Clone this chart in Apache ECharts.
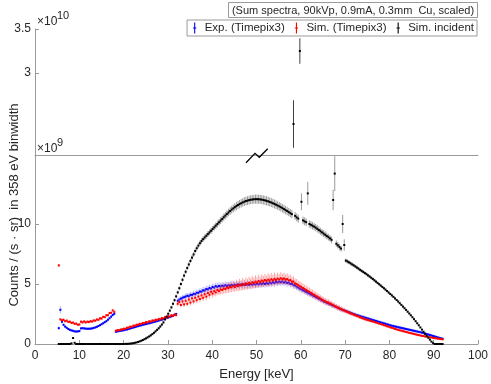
<!DOCTYPE html>
<html>
<head>
    <meta charset="utf-8"/>
    <script src="https://cdn.jsdelivr.net/npm/echarts@6/dist/echarts.min.js"></script>
    <style>
        html, body { margin: 0; padding: 0; background: #fff; }
        #main { width: 491px; height: 384px; }
    </style>
</head>
<body>
<div id="main"></div>
<script type="text/javascript">
    // spectra in 358 eV bins, bin k is centred at k * binWidth (keV)
    var binWidth = 0.358;
    var firstBin = 15;

    // counts / (s sr), in units of 1e9
    var expCounts = [
        1.32,2.85,1.85,1.6,1.45,1.35,1.25,1.18,1.13,1.1,
        1.05,1.04,1.05,1.08,1.3,1.32,1.3,1.28,1.27,1.27,
        1.28,1.3,1.34,1.38,1.43,1.5,1.57,1.65,1.73,1.82,
        1.9,2.02,2.15,2.28,2.42,2.52,1.02,1.05,1.08,1.1,
        1.12,1.15,1.18,1.21,1.25,1.29,1.33,1.37,1.41,1.45,
        1.49,1.53,1.56,1.6,1.63,1.66,1.7,1.73,1.76,1.8,
        1.84,1.87,1.91,1.95,1.99,2.03,2.07,2.11,2.16,2.2,
        2.25,2.3,2.35,2.42,2.5,3.6,3.7,3.78,3.85,3.9,
        3.95,4.02,3.98,4.1,4.08,4.18,4.15,4.27,4.26,4.37,
        4.36,4.47,4.45,4.58,4.55,4.67,4.62,4.75,4.7,4.82,
        4.76,4.84,4.79,4.86,4.81,4.9,4.83,4.9,4.86,4.93,
        4.87,4.94,4.88,4.96,4.9,4.97,4.91,4.98,4.93,4.99,
        4.93,5.0,4.94,5.02,4.95,5.03,4.97,5.05,4.99,5.07,
        5.0,5.09,5.02,5.12,5.05,5.15,5.08,5.18,5.12,5.2,
        5.14,5.22,5.12,5.19,5.08,5.12,5.0,5.02,4.9,4.88,
        4.78,4.7,4.62,4.55,4.48,4.41,4.34,4.27,4.2,4.13,
        4.06,3.99,3.92,3.85,3.78,3.71,3.64,3.57,3.5,3.44,
        3.38,3.32,3.26,3.2,3.14,3.08,3.02,2.96,2.9,2.84,
        2.8,2.75,2.7,2.65,2.6,2.55,2.5,2.45,2.41,2.37,
        2.32,2.28,2.24,2.2,2.16,2.12,2.08,2.04,2.0,1.96,
        1.92,1.88,1.84,1.8,1.76,1.72,1.68,1.64,1.6,1.56,
        1.52,1.49,1.46,1.43,1.4,1.37,1.34,1.31,1.28,1.25,
        1.22,1.19,1.16,1.13,1.1,1.07,1.04,1.01,0.98,0.95,
        0.91,0.87,0.83,0.79,0.75,0.71,0.67,0.63,0.59,0.55,
        0.51,0.47,0.44
    ];
    var expErr = [
        0.15,0.3,0.15,0.12,0.12,0.1,0.1,0.1,0.1,0.1,
        0.1,0.1,0.1,0.1,0.1,0.1,0.1,0.1,0.1,0.1,
        0.1,0.1,0.1,0.1,0.1,0.1,0.1,0.1,0.1,0.1,
        0.11,0.11,0.12,0.12,0.13,0.13,0.1,0.1,0.1,0.1,
        0.1,0.1,0.1,0.1,0.1,0.1,0.1,0.1,0.1,0.1,
        0.1,0.1,0.1,0.1,0.1,0.1,0.1,0.1,0.1,0.1,
        0.1,0.1,0.1,0.1,0.1,0.1,0.1,0.1,0.1,0.1,
        0.1,0.1,0.11,0.11,0.12,0.22,0.22,0.22,0.23,0.23,
        0.24,0.24,0.25,0.25,0.25,0.26,0.26,0.26,0.27,0.27,
        0.27,0.28,0.28,0.28,0.28,0.29,0.29,0.29,0.29,0.3,
        0.3,0.3,0.3,0.3,0.3,0.3,0.3,0.3,0.3,0.3,
        0.3,0.3,0.3,0.3,0.3,0.3,0.3,0.3,0.3,0.3,
        0.3,0.3,0.3,0.3,0.3,0.3,0.3,0.3,0.3,0.3,
        0.3,0.3,0.3,0.3,0.3,0.3,0.3,0.3,0.3,0.3,
        0.3,0.3,0.3,0.3,0.3,0.3,0.3,0.3,0.3,0.3,
        0.29,0.29,0.28,0.28,0.27,0.27,0.26,0.26,0.25,0.25,
        0.25,0.24,0.24,0.23,0.23,0.22,0.22,0.22,0.21,0.21,
        0.21,0.2,0.2,0.2,0.19,0.19,0.19,0.18,0.18,0.18,
        0.18,0.17,0.17,0.17,0.16,0.16,0.16,0.16,0.15,0.15,
        0.15,0.15,0.15,0.15,0.15,0.15,0.15,0.15,0.15,0.15,
        0.14,0.14,0.14,0.14,0.14,0.14,0.14,0.14,0.14,0.14,
        0.13,0.13,0.13,0.13,0.13,0.13,0.13,0.13,0.13,0.13,
        0.12,0.12,0.12,0.12,0.12,0.12,0.12,0.12,0.12,0.12,
        0.11,0.11,0.11,0.11,0.11,0.11,0.11,0.11,0.11,0.11,
        0.1,0.1,0.1
    ];

    var simTpxCounts = [
        6.55,2.05,1.98,2.02,1.9,1.95,1.84,1.86,1.76,1.78,
        1.68,1.7,1.6,1.63,1.86,1.8,1.88,1.8,1.86,1.83,
        1.9,1.87,1.96,1.94,2.04,2.02,2.14,2.12,2.26,2.24,
        2.4,2.4,2.58,2.6,2.8,2.68,1.1,1.16,1.14,1.2,
        1.22,1.27,1.26,1.35,1.36,1.44,1.43,1.52,1.52,1.6,
        1.6,1.68,1.67,1.75,1.74,1.82,1.8,1.89,1.87,1.96,
        1.94,2.02,2.0,2.09,2.06,2.16,2.13,2.24,2.2,2.32,
        2.28,2.4,2.34,2.46,2.4,3.35,3.5,3.25,3.55,3.3,
        3.6,3.35,3.7,3.45,3.8,3.55,3.85,3.65,3.95,3.75,
        4.05,3.85,4.15,3.95,4.25,4.1,4.35,4.2,4.4,4.3,
        4.5,4.4,4.55,4.5,4.62,4.58,4.7,4.65,4.75,4.72,
        4.84,4.74,4.9,4.82,4.95,4.88,5.0,4.93,5.05,4.98,
        5.1,5.02,5.15,5.08,5.2,5.12,5.25,5.16,5.29,5.21,
        5.33,5.24,5.36,5.28,5.4,5.31,5.43,5.34,5.45,5.38,
        5.48,5.4,5.46,5.36,5.42,5.3,5.33,5.2,5.2,5.05,
        4.99,4.9,4.82,4.74,4.66,4.58,4.5,4.42,4.34,4.26,
        4.18,4.1,4.02,3.94,3.86,3.78,3.7,3.62,3.55,3.48,
        3.45,3.38,3.31,3.24,3.17,3.1,3.03,2.97,2.91,2.85,
        2.79,2.73,2.67,2.61,2.55,2.5,2.44,2.39,2.34,2.29,
        2.22,2.17,2.12,2.07,2.03,1.99,1.95,1.91,1.87,1.83,
        1.79,1.74,1.7,1.66,1.62,1.57,1.53,1.48,1.44,1.39,
        1.35,1.31,1.26,1.22,1.18,1.14,1.11,1.07,1.04,1.0,
        0.97,0.93,0.9,0.87,0.84,0.8,0.77,0.74,0.71,0.68,
        0.66,0.63,0.61,0.58,0.56,0.54,0.51,0.49,0.47,0.45,
        0.43,0.41,0.39
    ];
    var simTpxErr = [
        0.12,0.1,0.1,0.1,0.1,0.1,0.1,0.1,0.1,0.1,
        0.1,0.1,0.1,0.1,0.1,0.1,0.1,0.1,0.1,0.1,
        0.1,0.1,0.1,0.1,0.1,0.1,0.1,0.1,0.1,0.1,
        0.1,0.1,0.1,0.1,0.1,0.1,0.1,0.1,0.1,0.1,
        0.1,0.1,0.1,0.1,0.1,0.1,0.1,0.1,0.1,0.1,
        0.1,0.1,0.1,0.1,0.1,0.1,0.1,0.1,0.1,0.1,
        0.1,0.1,0.1,0.1,0.1,0.1,0.1,0.1,0.1,0.1,
        0.1,0.1,0.1,0.1,0.1,0.2,0.22,0.2,0.24,0.22,
        0.25,0.22,0.27,0.24,0.28,0.25,0.3,0.26,0.3,0.28,
        0.32,0.28,0.33,0.3,0.34,0.31,0.35,0.32,0.36,0.33,
        0.38,0.34,0.4,0.35,0.42,0.36,0.43,0.38,0.44,0.4,
        0.45,0.4,0.46,0.41,0.48,0.42,0.5,0.43,0.5,0.44,
        0.5,0.45,0.52,0.45,0.52,0.46,0.5,0.45,0.52,0.46,
        0.5,0.45,0.52,0.46,0.5,0.45,0.52,0.44,0.5,0.45,
        0.5,0.44,0.48,0.43,0.47,0.42,0.45,0.4,0.44,0.4,
        0.42,0.38,0.4,0.36,0.38,0.35,0.37,0.34,0.36,0.33,
        0.34,0.31,0.33,0.3,0.32,0.29,0.3,0.28,0.29,0.27,
        0.28,0.26,0.27,0.25,0.26,0.24,0.25,0.23,0.24,0.22,
        0.2,0.18,0.19,0.17,0.18,0.16,0.17,0.15,0.16,0.14,
        0.14,0.13,0.13,0.12,0.12,0.11,0.11,0.1,0.1,0.1,
        0.08,0.08,0.08,0.08,0.08,0.08,0.08,0.08,0.08,0.08,
        0.08,0.08,0.08,0.08,0.08,0.08,0.08,0.08,0.08,0.08,
        0.07,0.07,0.07,0.07,0.07,0.07,0.07,0.07,0.07,0.07,
        0.06,0.06,0.06,0.06,0.06,0.06,0.06,0.06,0.06,0.06,
        0.06,0.06,0.06
    ];

    var incidentCounts = [
        0,0,0,0,0,0,0,0,0.05,0.5,
        0.1,0,0,0,0,0,0,0,0,0,
        0,0,0,0,0,0,0,0,0,0,
        0,0,0,0,0,0,0,0,0,0,
        0,0,0.01,0.01,0.02,0.03,0.05,0.07,0.1,0.13,
        0.17,0.22,0.27,0.33,0.4,0.47,0.55,0.63,0.72,0.82,
        0.93,1.05,1.18,1.31,1.46,1.62,1.8,2.05,2.28,2.52,
        2.78,3.05,3.35,3.65,3.97,4.3,4.65,5.0,5.35,5.7,
        6.02,6.33,6.63,6.92,7.2,7.46,7.75,7.98,8.2,8.4,
        8.58,8.74,8.88,9.02,9.16,9.3,9.44,9.58,9.72,9.86,
        10.0,10.14,10.28,10.42,10.56,10.7,10.83,10.96,11.08,11.2,
        11.3,11.4,11.5,11.58,11.66,11.73,11.8,11.86,11.91,11.95,
        11.99,12.02,12.04,12.06,12.07,12.07,12.06,12.05,12.03,12.0,
        11.97,11.93,11.89,11.84,11.79,11.73,11.67,11.61,11.54,11.47,
        11.4,11.32,11.24,11.16,11.08,10.99,10.9,10.82,24.2,10.68,
        10.55,10.45,32.5,11.85,10.3,10.22,10.15,12.55,10.0,9.93,
        9.86,9.78,9.7,9.6,9.5,9.4,9.3,9.2,9.1,9.0,
        8.9,8.8,8.68,12.0,14.2,8.35,8.22,8.08,7.95,10.0,
        8.25,6.95,6.88,6.8,6.72,6.63,6.55,6.46,6.37,6.28,
        6.18,6.09,6.0,5.91,5.82,5.72,5.62,5.52,5.42,5.31,
        5.2,5.09,4.98,4.87,4.76,4.65,4.53,4.41,4.29,4.17,
        4.05,3.93,3.8,3.67,3.54,3.4,3.26,3.12,2.98,2.84,
        2.69,2.54,2.39,2.23,2.07,1.9,1.73,1.56,1.38,1.2,
        1.02,0.85,0.68,0.52,0.36,0.2,0.07,0,0,0,
        0,0,0
    ];
    var incidentErr = [
        0,0,0,0,0,0,0,0,0,0,
        0,0,0,0,0,0,0,0,0,0,
        0,0,0,0,0,0,0,0,0,0,
        0,0,0,0,0,0,0,0,0,0,
        0,0,0,0,0,0,0.01,0.01,0.02,0.02,
        0.03,0.03,0.04,0.04,0.05,0.05,0.06,0.06,0.07,0.07,
        0.08,0.08,0.09,0.09,0.1,0.1,0.11,0.11,0.12,0.12,
        0.13,0.13,0.14,0.14,0.15,0.15,0.16,0.16,0.17,0.17,
        0.18,0.18,0.19,0.19,0.2,0.2,0.21,0.21,0.22,0.22,
        0.23,0.23,0.24,0.24,0.25,0.25,0.26,0.26,0.27,0.27,
        0.28,0.28,0.29,0.29,0.3,0.3,0.31,0.31,0.32,0.32,
        0.33,0.33,0.34,0.34,0.35,0.35,0.35,0.36,0.36,0.36,
        0.37,0.37,0.37,0.37,0.38,0.38,0.38,0.38,0.38,0.38,
        0.38,0.38,0.38,0.37,0.37,0.37,0.37,0.36,0.36,0.36,
        0.36,0.35,0.35,0.35,0.35,0.34,0.34,0.34,2.7,0.33,
        0.33,0.33,1.45,0.7,0.32,0.32,0.32,0.95,0.31,0.31,
        0.31,0.3,0.3,0.3,0.3,0.29,0.29,0.29,0.29,0.28,
        0.28,0.28,0.28,0.85,1.45,0.27,0.27,0.27,0.26,0.75,
        0.48,0.17,0.17,0.16,0.16,0.16,0.15,0.15,0.15,0.14,
        0.14,0.14,0.14,0.13,0.13,0.13,0.12,0.12,0.12,0.12,
        0.11,0.11,0.11,0.1,0.1,0.1,0.1,0.09,0.09,0.09,
        0.09,0.08,0.08,0.08,0.08,0.07,0.07,0.07,0.07,0.06,
        0.06,0.06,0.06,0.05,0.05,0.05,0.05,0.04,0.04,0.04,
        0.04,0.03,0.03,0.03,0.02,0.02,0.01,0,0,0,
        0,0,0
    ];

    var seriesNames = ['Exp. (Timepix3)', 'Sim. (Timepix3)', 'Sim. incident'];
    var seriesColors = ['#0000ff', '#ff0000', '#000000'];
    var legendTitle = '(Sum spectra, 90kVp, 0.9mA, 0.3mm  Cu, scaled)';

    var energy = expCounts.map(function (v, i) {
        return +((firstBin + i) * binWidth).toFixed(3);
    });

    function toRows(vals, errs) {
        return vals.map(function (v, i) { return [energy[i], v, errs[i]]; });
    }

    // error bar + centre dot, clipped to its own grid
    function errorBars(barColor, dotColor) {
        return function (params, api) {
            var x = api.value(0), v = api.value(1), e = api.value(2);
            var cs = params.coordSys;
            var p = api.coord([x, v]);
            var yTop = api.coord([x, v + e])[1];
            var yBot = api.coord([x, v - e])[1];
            var lo = cs.y, hi = cs.y + cs.height;
            var kids = [];
            var a = Math.max(yTop, lo), b = Math.min(yBot, hi);
            if (b > a) {
                kids.push({type: 'line', shape: {x1: p[0], y1: a, x2: p[0], y2: b},
                    style: {stroke: barColor, lineWidth: 1}});
            }
            if (p[1] >= lo - 0.5 && p[1] <= hi + 0.5) {
                kids.push({type: 'rect', shape: {x: p[0] - 1, y: p[1] - 1, width: 2, height: 2},
                    style: {fill: dotColor}});
            }
            return {type: 'group', children: kids};
        };
    }

    var font = '"Liberation Sans", Arial, Helvetica, sans-serif';
    var axisGray = '#9a9a9a';
    var textDark = '#262626';

    var myChart = echarts.init(document.getElementById('main'));

    var option = {
        animation: false,
        textStyle: {fontFamily: font},
        legend: {
            data: seriesNames.map(function (n, i) {
                return {name: n, itemStyle: {color: seriesColors[i]}};
            }),
            right: 14,
            top: 20,
            icon: 'path://M2,0h1v10h-1z M1,4.5h3v1h-3z',
            itemWidth: 10,
            itemHeight: 11,
            itemGap: 10,
            padding: [2, 3, 2, 6],
            borderColor: axisGray,
            borderWidth: 1,
            backgroundColor: '#fff',
            textStyle: {fontSize: 11.5, color: textDark, fontFamily: font}
        },
        grid: [
            {left: 35, right: 13, top: 29, height: 126},
            {left: 35, right: 13, top: 155, height: 189}
        ],
        xAxis: [
            {gridIndex: 0, type: 'value', min: 0, max: 100, show: false},
            {
                gridIndex: 1, type: 'value', min: 0, max: 100, interval: 10,
                name: 'Energy [keV]', nameLocation: 'middle', nameGap: 24,
                nameTextStyle: {fontSize: 13, color: textDark, fontFamily: font},
                axisLine: {lineStyle: {color: axisGray}},
                axisTick: {inside: true, length: 4, lineStyle: {color: axisGray}},
                axisLabel: {fontSize: 12, color: textDark, margin: 6, fontFamily: font},
                splitLine: {show: false}
            },
            {
                gridIndex: 1, type: 'value', min: 0, max: 100, position: 'top',
                axisLine: {show: true, lineStyle: {color: axisGray}},
                axisTick: {show: false}, axisLabel: {show: false}, splitLine: {show: false}
            }
        ],
        yAxis: [
            {
                gridIndex: 0, type: 'value', min: 20.68, max: 35,
                axisLine: {show: true, lineStyle: {color: axisGray}},
                axisTick: {show: true, inside: true, length: 4, customValues: [30, 35],
                    lineStyle: {color: axisGray}},
                axisLabel: {fontSize: 12, color: textDark, margin: 4, customValues: [30, 35],
                    fontFamily: font,
                    formatter: function (v) { return String(v / 10); }},
                splitLine: {show: false}
            },
            {
                gridIndex: 1, type: 'value', min: 0, max: 15.75,
                axisLine: {show: true, lineStyle: {color: axisGray}},
                axisTick: {show: true, inside: true, length: 4, customValues: [0, 5, 10],
                    lineStyle: {color: axisGray}},
                axisLabel: {fontSize: 12, color: textDark, margin: 4, customValues: [0, 5, 10],
                    fontFamily: font},
                splitLine: {show: false}
            }
        ],
        series: [
            {
                name: seriesNames[0], type: 'custom', xAxisIndex: 1, yAxisIndex: 1,
                itemStyle: {color: seriesColors[0]},
                renderItem: errorBars('rgba(90,90,255,0.45)', seriesColors[0]),
                encode: {x: 0, y: 1},
                data: toRows(expCounts, expErr)
            },
            {
                name: seriesNames[1], type: 'custom', xAxisIndex: 1, yAxisIndex: 1,
                itemStyle: {color: seriesColors[1]},
                renderItem: errorBars('rgba(255,70,70,0.5)', seriesColors[1]),
                encode: {x: 0, y: 1},
                data: toRows(simTpxCounts, simTpxErr)
            },
            {
                name: seriesNames[2], type: 'custom', xAxisIndex: 1, yAxisIndex: 1,
                itemStyle: {color: seriesColors[2]},
                renderItem: errorBars('rgba(0,0,0,0.4)', seriesColors[2]),
                encode: {x: 0, y: 1},
                data: toRows(incidentCounts, incidentErr)
            },
            {
                name: seriesNames[2], type: 'custom', xAxisIndex: 0, yAxisIndex: 0,
                itemStyle: {color: seriesColors[2]},
                renderItem: errorBars('rgba(0,0,0,0.75)', seriesColors[2]),
                encode: {x: 0, y: 1},
                data: toRows(incidentCounts, incidentErr)
            }
        ],
        graphic: [
            {
                type: 'group', left: 228, top: 2,
                children: [
                    {type: 'rect', shape: {x: 0, y: 0, width: 249, height: 15},
                        style: {fill: '#fff', stroke: axisGray, lineWidth: 1}},
                    {type: 'text', x: 124.5, y: 8,
                        style: {text: legendTitle, fontSize: 11, fill: textDark, fontFamily: font,
                            align: 'center', verticalAlign: 'middle'}}
                ]
            },
            {type: 'text', x: 37, y: 22,
                style: {text: '×10', fontSize: 12, fill: textDark, fontFamily: font, verticalAlign: 'middle'}},
            {type: 'text', x: 57, y: 16,
                style: {text: '10', fontSize: 11, fill: textDark, fontFamily: font, verticalAlign: 'middle'}},
            {type: 'text', x: 37, y: 149,
                style: {text: '×10', fontSize: 12, fill: textDark, fontFamily: font, verticalAlign: 'middle'}},
            {type: 'text', x: 57, y: 143,
                style: {text: '9', fontSize: 11, fill: textDark, fontFamily: font, verticalAlign: 'middle'}},
            {type: 'text', x: 14, y: 205, rotation: Math.PI / 2,
                style: {text: 'Counts / (s · sr)  in 358 eV binwidth', fontSize: 13, fill: textDark,
                    fontFamily: font, align: 'center', verticalAlign: 'middle'}},
            // axis break mark
            {type: 'polyline', z: 100,
                shape: {points: [[246, 162.7], [255, 153.3], [259.3, 157.3], [267.7, 148.7]]},
                style: {stroke: '#000', lineWidth: 1.3, fill: null}}
        ]
    };

    myChart.setOption(option);
</script>
</body>
</html>
